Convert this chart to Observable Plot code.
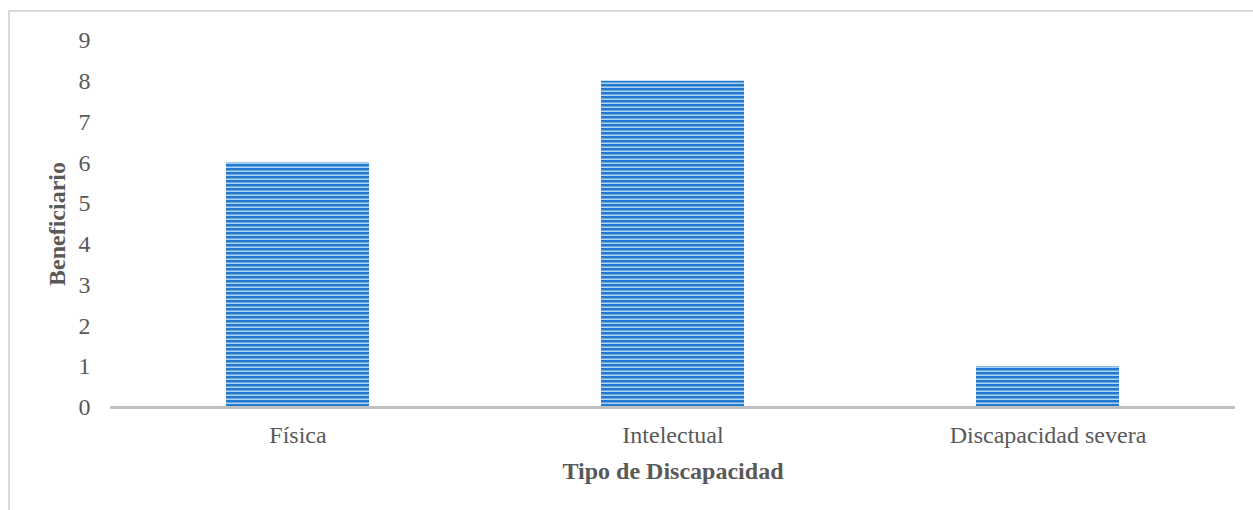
<!DOCTYPE html>
<html>
<head>
<meta charset="utf-8">
<script src="https://cdn.jsdelivr.net/npm/d3@7"></script>
<script src="https://cdn.jsdelivr.net/npm/@observablehq/plot@0.6"></script>
<style>
  html, body { margin: 0; padding: 0; background: #fff; }
  #wrap { position: relative; width: 1253px; height: 510px; overflow: hidden; }
  #frame { position: absolute; left: 8px; top: 10px; width: 1300px; height: 600px;
           border-top: 2px solid #d9d9d9; border-left: 2px solid #d9d9d9; box-sizing: border-box; }
  svg { position: absolute; left: 0; top: 0; font-family: "Liberation Serif", "Times New Roman", serif; }
</style>
</head>
<body>
<div id="wrap"><div id="frame"></div></div>
<script>
const categories = ["Física", "Intelectual", "Discapacidad severa"];
const values = [6, 8, 1];
const yTicks = [0, 1, 2, 3, 4, 5, 6, 7, 8, 9];
const xTitle = "Tipo de Discapacidad";
const yTitle = "Beneficiario";

const data = categories.map((c, i) => ({category: c, value: values[i]}));

const chart = Plot.plot({
  width: 1253,
  height: 510,
  marginLeft: 110,
  marginRight: 18,
  marginTop: 40,
  marginBottom: 103,
  style: {fontFamily: "Liberation Serif, serif", fontSize: "24px", color: "#595959", background: "transparent"},
  x: {domain: categories, paddingInner: 0.62, paddingOuter: 0.31, label: null},
  y: {domain: [0, 9], label: null},
  marks: [
    Plot.axisY({ticks: yTicks, tickSize: 0, tickPadding: 20, fontSize: 24, fill: "#595959"}),
    Plot.axisX({tickSize: 0, tickPadding: 18, fontSize: 24, fill: "#595959"}),
    Plot.barY(data, {x: "category", y: "value", fill: "url(#stripes)"}),
    Plot.ruleY([0], {stroke: "#bfbfbf", strokeWidth: 3}),
    Plot.text([xTitle], {frameAnchor: "bottom", dy: 71, text: d => d, fontWeight: "bold", fontSize: 24, fill: "#595959"}),
    Plot.text([yTitle], {frameAnchor: "left", dx: -53, rotate: -90, textAnchor: "middle", text: d => d, fontWeight: "bold", fontSize: 24, fill: "#595959"})
  ]
});

const ns = "http://www.w3.org/2000/svg";
const defs = document.createElementNS(ns, "defs");
defs.innerHTML = `
  <pattern id="stripes" patternUnits="userSpaceOnUse" x="0" y="0" width="8" height="4">
    <rect x="0" y="0" width="8" height="4" fill="#add3f3"/>
    <rect x="0" y="0" width="8" height="2" fill="#2378cf"/>
    <rect x="0" y="2" width="8" height="1" fill="#67a8e4"/>
  </pattern>`;
chart.insertBefore(defs, chart.firstChild);
document.getElementById("wrap").appendChild(chart);
</script>
</body>
</html>
